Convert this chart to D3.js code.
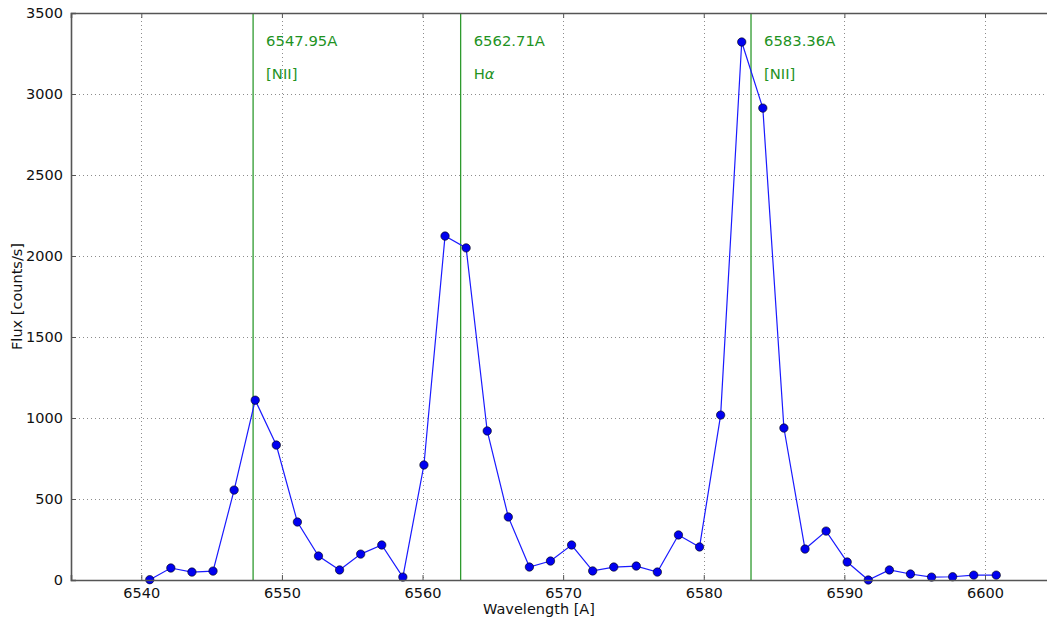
<!DOCTYPE html>
<html><head><meta charset="utf-8">
<script src="https://cdn.jsdelivr.net/npm/d3@7"></script>
<style>
html,body{margin:0;padding:0;background:#fff;overflow:hidden;}
svg{display:block;font-family:"DejaVu Sans",sans-serif;}
</style></head><body>
<svg id="c" width="1047" height="617"></svg>
<script>
const wavelengths = [6540.6, 6542.1, 6543.6, 6545.1, 6546.6, 6548.1, 6549.6, 6551.1, 6552.6, 6554.1,
  6555.6, 6557.1, 6558.6, 6560.1, 6561.6, 6563.1, 6564.6, 6566.1, 6567.6, 6569.1,
  6570.6, 6572.1, 6573.6, 6575.2, 6576.7, 6578.2, 6579.7, 6581.2, 6582.7, 6584.2,
  6585.7, 6587.2, 6588.7, 6590.2, 6591.7, 6593.2, 6594.7, 6596.2, 6597.7, 6599.2, 6600.8];
const flux = [2, 74, 49, 55, 555, 1110, 833, 358, 148, 62,
  160, 216, 18, 710, 2123, 2050, 920, 389, 80, 117,
  216, 56, 80, 86, 49, 278, 204, 1018, 3321, 2913,
  938, 191, 302, 111, 0, 62, 37, 18, 20, 30, 30];
const lineWaves = [6547.95, 6562.71, 6583.36];
const lineLabels = ["6547.95A", "6562.71A", "6583.36A"];
const lineNames = [["[NII]", ""], ["H", "α"], ["[NII]", ""]];
const xTicks = [6540, 6550, 6560, 6570, 6580, 6590, 6600];
const yTicks = [0, 500, 1000, 1500, 2000, 2500, 3000, 3500];
const xDomain = [6535, 6605];
const yDomain = [0, 3500];

const svg = d3.select("#c");
const L = 71, R = 1055.3, T = 13, B = 580;
const x = d3.scaleLinear().domain(xDomain).range([L, R]);
const y = d3.scaleLinear().domain(yDomain).range([B, T]);
const green = "#1f931f";

// grid
const g = svg.append("g");
g.selectAll(".gx").data(xTicks).join("line")
  .attr("x1", d => Math.round(x(d)) + 0.5).attr("x2", d => Math.round(x(d)) + 0.5)
  .attr("y1", T).attr("y2", B)
  .attr("stroke", "#000").attr("stroke-opacity", 0.45).attr("stroke-width", 1).attr("stroke-dasharray", "1,3");
g.selectAll(".gy").data(yTicks.filter(d => d > 0 && d < 3500)).join("line")
  .attr("y1", d => Math.round(y(d)) + 0.5).attr("y2", d => Math.round(y(d)) + 0.5)
  .attr("x1", L).attr("x2", R)
  .attr("stroke", "#000").attr("stroke-opacity", 0.45).attr("stroke-width", 1).attr("stroke-dasharray", "1,3");

// vertical lines
svg.selectAll(".vl").data(lineWaves).join("line")
  .attr("x1", d => x(d)).attr("x2", d => x(d)).attr("y1", T).attr("y2", B)
  .attr("stroke", "#2e9a2e").attr("stroke-width", 1.3);
svg.selectAll(".vt1").data(lineWaves).join("text")
  .attr("x", d => x(d) + 13).attr("y", 46)
  .attr("fill", green).attr("font-size", "14.8px").text((d, i) => lineLabels[i]);
const t2 = svg.selectAll(".vt2").data(lineWaves).join("text")
  .attr("x", d => x(d) + 13).attr("y", 79)
  .attr("fill", green).attr("font-size", "14.8px");
t2.append("tspan").text((d, i) => lineNames[i][0]);
t2.append("tspan").attr("font-style", "italic").text((d, i) => lineNames[i][1]);

// data line
const line = d3.line().x((d, i) => x(wavelengths[i])).y(d => y(d));
svg.append("path").datum(flux).attr("d", line)
  .attr("fill", "none").attr("stroke", "#1a1aff").attr("stroke-width", 1.2);
svg.selectAll(".pt").data(flux).join("circle")
  .attr("cx", (d, i) => x(wavelengths[i])).attr("cy", d => y(d)).attr("r", 4.2)
  .attr("fill", "#0000f0").attr("stroke", "#000").attr("stroke-width", 0.6);

// axes
const xAxisB = d3.axisBottom(x).tickValues(xTicks).tickSize(-5).tickPadding(8).tickFormat(d3.format("d"));
const xAxisT = d3.axisTop(x).tickValues(xTicks).tickSize(-5).tickFormat("");
const yAxisL = d3.axisLeft(y).tickValues(yTicks).tickSize(-5).tickPadding(8).tickFormat(d3.format("d"));
const ax = [
  svg.append("g").attr("transform", `translate(0,${B})`).call(xAxisB),
  svg.append("g").attr("transform", `translate(0,${T})`).call(xAxisT),
  svg.append("g").attr("transform", `translate(${L},0)`).call(yAxisL)
];
ax.forEach(a => {
  a.select(".domain").attr("stroke", "#555").attr("stroke-width", 1.6);
  a.selectAll(".tick line").attr("stroke", "#555").attr("stroke-width", 1);
  a.selectAll(".tick text").attr("fill", "#111").attr("font-size", "14.5px").attr("font-family", "DejaVu Sans");
});

svg.append("text").attr("x", (L + 1047) / 2 - 20).attr("y", 614).attr("text-anchor", "middle")
  .attr("font-size", "14.5px").attr("fill", "#111").text("Wavelength [A]");
svg.append("text").attr("transform", `translate(22,${(T + B) / 2}) rotate(-90)`).attr("text-anchor", "middle")
  .attr("font-size", "14.5px").attr("fill", "#111").text("Flux [counts/s]");
</script></body></html>
